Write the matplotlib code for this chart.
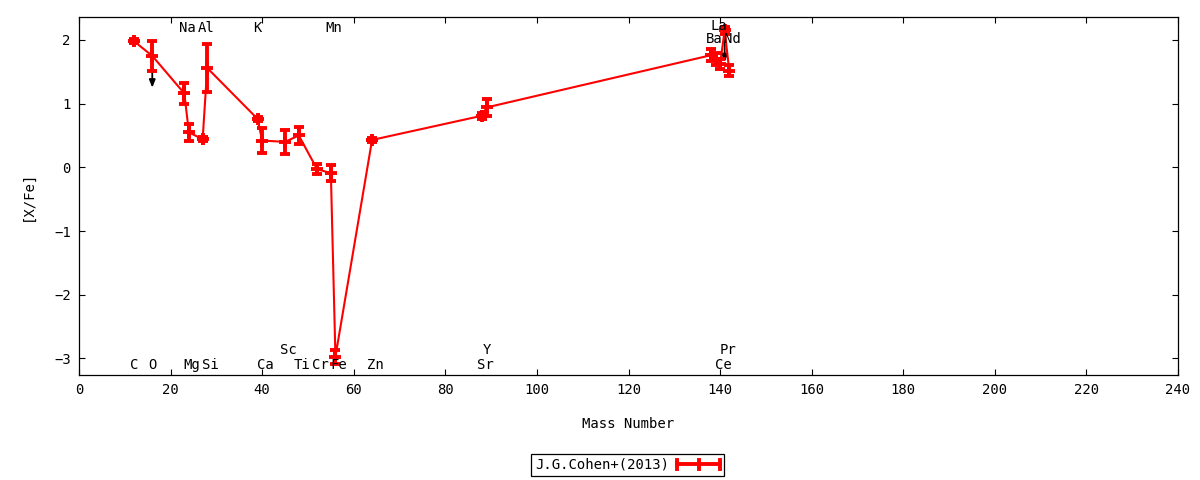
import matplotlib
matplotlib.use("Agg")
import matplotlib.pyplot as plt
from matplotlib.lines import Line2D
from matplotlib.legend_handler import HandlerBase
import numpy as np

plt.rcParams['font.family'] = ['DejaVu Sans Mono']

# ---- data ----
elements = ["C", "O", "Na", "Mg", "Al", "Si", "K", "Ca", "Sc", "Ti", "Cr", "Mn",
            "Fe", "Zn", "Sr", "Y", "Ba", "La", "Ce", "Pr", "Nd"]
mass = [12, 16, 23, 24, 27, 28, 39, 40, 45, 48, 52, 55, 56, 64, 88, 89,
        138, 139, 140, 141, 142]
xfe = [1.98, 1.75, 1.16, 0.55, 0.44, 1.56, 0.76, 0.42, 0.40, 0.50, -0.03, -0.09,
       -2.97, 0.43, 0.81, 0.94, 1.76, 1.70, 1.62, 2.15, 1.52]
err = [0.03, 0.24, 0.16, 0.13, 0.03, 0.38, 0.03, 0.19, 0.19, 0.13, 0.08, 0.13,
       0.11, 0.03, 0.05, 0.13, 0.09, 0.10, 0.08, 0.05, 0.09]
upper_limit = ["O", "Pr"]
label_y = {"C": -3.10, "O": -3.10, "Na": 2.19, "Mg": -3.10, "Al": 2.19, "Si": -3.10,
           "K": 2.19, "Ca": -3.10, "Sc": -2.87, "Ti": -3.10, "Cr": -3.10, "Mn": 2.19,
           "Fe": -3.10, "Zn": -3.10, "Sr": -3.10, "Y": -2.87, "Ba": 2.02, "La": 2.22,
           "Ce": -3.10, "Pr": -2.87, "Nd": 2.02}
series_label = "J.G.Cohen+(2013)"
xticks = list(range(0, 241, 20))
yticks = [-3, -2, -1, 0, 1, 2]

RED = "#ff0000"
FS = 10

fig = plt.figure(figsize=(12, 4.8), dpi=100)
ax = fig.add_axes([79/1200, 1-375/480, (1178-79)/1200, (375-17)/480])

# upper-limit arrows (below the red series)
for el, m, v in zip(elements, mass, xfe):
    if el in upper_limit:
        ax.annotate("", xy=(m, v-0.5), xytext=(m, v),
                    arrowprops=dict(arrowstyle="-|>,head_length=0.45,head_width=0.18",
                                    color="black", lw=1.3, shrinkA=0, shrinkB=0),
                    zorder=1)

ax.plot(mass, xfe, color=RED, lw=1.5, zorder=2)
ax.errorbar(mass, xfe, yerr=err, fmt="+", color=RED, ecolor=RED, elinewidth=2.8,
            capsize=3.6, capthick=2.8, markersize=8, mew=2.8, zorder=3)

for el, m in zip(elements, mass):
    dx = 2.2 if len(el) == 2 else 0.0
    ax.annotate(el, xy=(m, label_y[el]), xytext=(dx, 0), textcoords="offset points",
                ha="center", va="center", fontsize=FS, zorder=4)

ax.set_xlim(0, 240)
ax.set_ylim(-3.26, 2.36)
ax.set_xticks(xticks)
ax.set_yticks(yticks)
ax.tick_params(direction="in", length=4, width=0.8, top=True, right=True,
               labelsize=FS, pad=6)
for s in ax.spines.values():
    s.set_linewidth(0.9)
ax.set_xlabel("Mass Number", fontsize=FS, labelpad=14)
ax.set_ylabel("[X/Fe]", fontsize=FS, labelpad=14)


class ErrHandler(HandlerBase):
    def create_artists(self, legend, orig_handle, xdescent, ydescent, width,
                       height, fontsize, trans):
        y = height / 2 - ydescent
        x0 = -xdescent
        x1 = x0 + width
        xm = (x0 + x1) / 2
        h = height * 0.45
        arts = [
            Line2D([x0, x1], [y, y], color=RED, lw=2.8),
            Line2D([x0, x0], [y - h, y + h], color=RED, lw=2.8),
            Line2D([x1, x1], [y - h, y + h], color=RED, lw=2.8),
            Line2D([xm, xm], [y - h, y + h], color=RED, lw=2.8),
        ]
        for a in arts:
            a.set_transform(trans)
        return arts


handle = Line2D([], [], color=RED)
leg = fig.legend([handle], [series_label], loc="center",
                 bbox_to_anchor=(627.5/1200, 1-465/480), frameon=True,
                 fancybox=False, edgecolor="black", framealpha=1,
                 markerfirst=False, handlelength=3.1, handletextpad=0.6,
                 borderpad=0.3, borderaxespad=0, fontsize=FS,
                 handler_map={Line2D: ErrHandler()})
leg.get_frame().set_linewidth(0.9)

fig.savefig("out.png", dpi=100)
